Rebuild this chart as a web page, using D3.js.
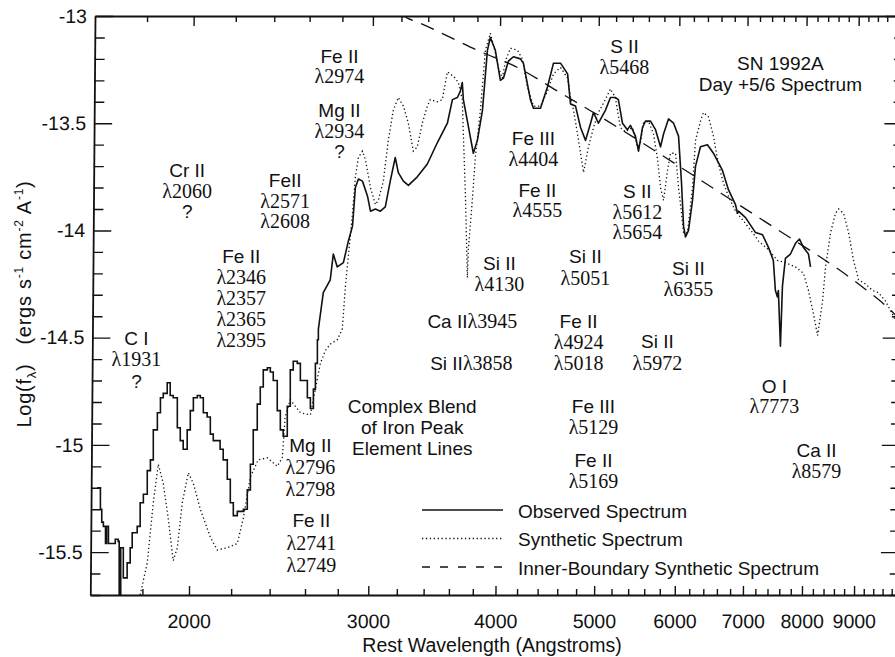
<!DOCTYPE html>
<html>
<head>
<meta charset="utf-8">
<script src="https://cdn.jsdelivr.net/npm/d3@7"></script>
<style>
  body { margin: 0; background: #fff; }
  svg { display: block; }
  .sans { font-family: "Liberation Sans", Arial, Helvetica, sans-serif; font-size: 19px; }
  .serif { font-family: "Liberation Serif", "Times New Roman", serif; font-size: 20px; }
</style>
</head>
<body>
<svg id="chart" width="895" height="657"></svg>
<script>
// ---- axis ticks ----
const xMajorTicks = [2000, 3000, 4000, 5000, 6000, 7000, 8000, 9000];
const xMinorTicks = d3.range(1800, 10000, 200).filter(v => v % 1000 !== 0);
const yMajorTicks = [-13, -13.5, -14, -14.5, -15, -15.5];
const yMinorTicks = d3.range(0, 28).map(i => +(-15.7 + i * 0.1).toFixed(1))
  .filter(v => Math.abs(v * 2 - Math.round(v * 2)) > 1e-6);

// ---- spectra: [rest wavelength (Å), log f_lambda] ----
// observed, ultraviolet part (binned data, drawn as steps)
const observedUV = [
  [1625,-15.20],[1637,-15.30],[1642,-15.36],[1648,-15.38],[1656,-15.46],[1660,-15.38],[1667,-15.46],
  [1682,-15.46],[1693,-15.44],[1704,-15.45],[1708,-15.70],[1714,-15.48],[1720,-15.48],[1724,-15.62],
  [1736,-15.62],[1739,-15.55],[1751,-15.48],[1759,-15.41],[1779,-15.38],[1791,-15.27],[1804,-15.23],
  [1820,-15.12],[1833,-15.07],[1845,-14.93],[1862,-14.85],[1875,-14.78],[1887,-14.76],[1904,-14.71],
  [1917,-14.77],[1930,-14.78],[1948,-14.92],[1961,-14.98],[1974,-15.02],[1992,-14.93],[2006,-14.84],
  [2020,-14.78],[2038,-14.77],[2052,-14.78],[2066,-14.85],[2084,-14.87],[2099,-14.95],[2113,-14.98],
  [2132,-14.98],[2146,-15.02],[2161,-15.07],[2181,-15.16],[2196,-15.27],[2211,-15.33],[2231,-15.31],
  [2246,-15.31],[2262,-15.30],[2282,-15.21],[2298,-15.09],[2313,-14.93],[2334,-14.81],[2350,-14.73],
  [2366,-14.65],[2388,-14.64],[2404,-14.66],[2420,-14.70],[2442,-14.84],[2459,-14.93],[2475,-14.96],
  [2498,-14.82],[2515,-14.65],[2532,-14.61],[2555,-14.62],[2573,-14.70],[2590,-14.70],[2614,-14.78],
  [2632,-14.83],[2650,-14.74],[2662,-14.62],[2674,-14.51],[2680,-14.46]
];
// observed, longer wavelengths
const observedOpt = [
  [2680,-14.46],[2710,-14.29],[2753,-14.23],[2772,-14.11],[2797,-14.17],[2836,-14.15],[2868,-14.05],
  [2895,-13.98],[2914,-13.80],[2934,-13.76],[2961,-13.77],[2995,-13.84],[3015,-13.91],[3049,-13.90],
  [3083,-13.91],[3118,-13.89],[3153,-13.77],[3189,-13.66],[3211,-13.73],[3248,-13.77],[3285,-13.79],
  [3352,-13.75],[3429,-13.69],[3508,-13.59],[3588,-13.50],[3629,-13.39],[3670,-13.38],[3695,-13.35],
  [3711,-13.31],[3720,-13.39],[3754,-13.49],[3805,-13.64],[3840,-13.58],[3884,-13.44],[3928,-13.16],
  [3954,-13.10],[3999,-13.16],[4045,-13.30],[4073,-13.29],[4119,-13.21],[4166,-13.19],[4232,-13.20],
  [4261,-13.22],[4329,-13.39],[4359,-13.43],[4429,-13.43],[4500,-13.33],[4561,-13.22],[4634,-13.22],
  [4709,-13.27],[4740,-13.41],[4794,-13.42],[4849,-13.52],[4904,-13.58],[4960,-13.50],[4993,-13.45],
  [5049,-13.50],[5129,-13.44],[5188,-13.38],[5246,-13.38],[5282,-13.39],[5331,-13.50],[5391,-13.53],
  [5428,-13.51],[5490,-13.56],[5528,-13.63],[5578,-13.52],[5616,-13.49],[5680,-13.49],[5745,-13.53],
  [5810,-13.61],[5850,-13.55],[5916,-13.48],[5984,-13.50],[6052,-13.56],[6093,-13.78],[6121,-13.98],
  [6148,-14.03],[6190,-14.00],[6246,-13.86],[6289,-13.70],[6360,-13.61],[6460,-13.60],[6549,-13.64],
  [6684,-13.72],[6775,-13.81],[6884,-13.88],[6915,-13.92],[6931,-13.91],[7042,-13.94],[7203,-14.01],
  [7318,-14.02],[7419,-14.08],[7499,-14.14],[7534,-14.28],[7569,-14.31],[7585,-14.28],[7620,-14.54],
  [7655,-14.26],[7707,-14.13],[7795,-14.11],[7884,-14.06],[7956,-14.04],[8028,-14.08],[8119,-14.11],
  [8157,-14.17]
];
const synthetic = [
  [1791,-15.70],[1820,-15.55],[1845,-15.27],[1866,-15.09],[1887,-15.18],[1908,-15.34],[1930,-15.54],
  [1948,-15.48],[1970,-15.27],[1997,-15.13],[2020,-15.18],[2052,-15.30],[2099,-15.43],[2132,-15.49],
  [2181,-15.48],[2231,-15.46],[2262,-15.34],[2298,-15.15],[2339,-15.07],[2388,-15.06],[2442,-15.10],
  [2470,-15.06],[2486,-14.87],[2515,-14.79],[2544,-14.82],[2573,-14.85],[2632,-14.86],[2692,-14.62],
  [2723,-14.56],[2753,-14.53],[2797,-14.51],[2829,-14.46],[2849,-14.26],[2868,-14.12],[2895,-13.92],
  [2914,-13.75],[2934,-13.66],[2961,-13.63],[2981,-13.67],[3015,-13.80],[3049,-13.88],[3069,-13.86],
  [3104,-13.77],[3139,-13.58],[3175,-13.44],[3211,-13.38],[3248,-13.42],[3285,-13.50],[3322,-13.63],
  [3352,-13.61],[3390,-13.50],[3429,-13.42],[3452,-13.39],[3508,-13.40],[3547,-13.39],[3588,-13.26],
  [3612,-13.27],[3653,-13.29],[3678,-13.31],[3711,-13.39],[3720,-13.55],[3737,-13.83],[3754,-14.22],
  [3762,-14.09],[3796,-13.86],[3822,-13.66],[3866,-13.44],[3910,-13.16],[3954,-13.08],[3999,-13.17],
  [4026,-13.24],[4063,-13.29],[4091,-13.21],[4138,-13.15],[4204,-13.16],[4251,-13.20],[4300,-13.33],
  [4359,-13.42],[4429,-13.42],[4500,-13.35],[4561,-13.27],[4634,-13.24],[4709,-13.29],[4740,-13.38],
  [4773,-13.44],[4827,-13.58],[4882,-13.73],[4937,-13.61],[4993,-13.52],[5049,-13.45],[5129,-13.39],
  [5188,-13.34],[5246,-13.38],[5306,-13.52],[5367,-13.54],[5453,-13.52],[5515,-13.61],[5553,-13.59],
  [5590,-13.50],[5654,-13.49],[5719,-13.55],[5772,-13.67],[5810,-13.80],[5850,-13.86],[5903,-13.72],
  [5943,-13.64],[6011,-13.64],[6052,-13.80],[6093,-13.92],[6121,-14.01],[6176,-14.01],[6246,-13.80],
  [6289,-13.58],[6360,-13.49],[6403,-13.45],[6475,-13.47],[6549,-13.56],[6623,-13.69],[6699,-13.78],
  [6775,-13.84],[6884,-13.91],[6994,-13.95],[7155,-14.01],[7253,-14.05],[7419,-14.09],[7569,-14.14],
  [7707,-14.15],[7884,-14.17],[8028,-14.20],[8119,-14.28],[8212,-14.39],[8288,-14.49],[8382,-14.33],
  [8439,-14.17],[8535,-14.01],[8632,-13.92],[8691,-13.90],[8790,-13.92],[8890,-14.01],[8991,-14.14],
  [9093,-14.23],[9239,-14.25],[9384,-14.28],[9513,-14.29],[9665,-14.33],[9841,-14.40],[9950,-14.45]
];
const innerBoundary = [
  [3226,-12.99],[3278,-13.01],[3360,-13.03],[3612,-13.10],[3840,-13.16],[4204,-13.24],[4602,-13.35],
  [4993,-13.45],[5528,-13.58],[6289,-13.75],[6884,-13.87],[7884,-14.05],[8439,-14.14],[9093,-14.25],
  [9910,-14.40],[10000,-14.42]
];

// ---- line identifications, anchored at (wavelength, log flux) of the first line ----
const annotations = [
  { w: 1776, f: -14.534, gap: 21.5, lines: ["C I", "λ1931", "?"] },
  { w: 1992, f: -13.751, gap: 20.5, lines: ["Cr II", "λ2060", "?"] },
  { w: 2251, f: -14.152, gap: 21,   lines: ["Fe II", "λ2346", "λ2357", "λ2365", "λ2395"] },
  { w: 2486, f: -13.798, gap: 20.5, lines: ["FeII", "λ2571", "λ2608"] },
  { w: 2811, f: -13.219, gap: 20.5, lines: ["Fe II", "λ2974"] },
  { w: 2811, f: -13.471, gap: 20.5, lines: ["Mg II", "λ2934", "?"] },
  { w: 2632, f: -15.033, gap: 22,   lines: ["Mg II", "λ2796", "λ2798"] },
  { w: 2638, f: -15.383, gap: 22.5, lines: ["Fe II", "λ2741", "λ2749"] },
  { w: 3314, f: -14.852, gap: 21,   lines: ["Complex Blend", "of Iron Peak", "Element Lines"] },
  { w: 4036, f: -14.185, gap: 20.5, lines: ["Si II", "λ4130"] },
  { w: 3796, f: -14.455, gap: 20.5, lines: ["Ca IIλ3945"] },
  { w: 3788, f: -14.651, gap: 20.5, lines: ["Si IIλ3858"] },
  { w: 4359, f: -13.602, gap: 20.5, lines: ["Fe III", "λ4404"] },
  { w: 4398, f: -13.844, gap: 20.5, lines: ["Fe II", "λ4555"] },
  { w: 4903, f: -14.152, gap: 22,   lines: ["Si II", "λ5051"] },
  { w: 4827, f: -14.455, gap: 21,   lines: ["Fe II", "λ4924", "λ5018"] },
  { w: 4993, f: -14.852, gap: 20.5, lines: ["Fe III", "λ5129"] },
  { w: 4993, f: -15.103, gap: 21,   lines: ["Fe II", "λ5169"] },
  { w: 5355, f: -13.173, gap: 20.5, lines: ["S II", "λ5468"] },
  { w: 5514, f: -13.849, gap: 20.5, lines: ["S II", "λ5612", "λ5654"] },
  { w: 6188, f: -14.208, gap: 20.5, lines: ["Si II", "λ6355"] },
  { w: 5770, f: -14.548, gap: 22,   lines: ["Si II", "λ5972"] },
  { w: 7516, f: -14.758, gap: 20.5, lines: ["O I", "λ7773"] },
  { w: 8268, f: -15.057, gap: 21,   lines: ["Ca II", "λ8579"] },
  { w: 7620, f: -13.252, gap: 20.5, lines: ["SN 1992A", "Day +5/6 Spectrum"] }
];

const legendItems = [
  { label: "Observed Spectrum", dash: null },
  { label: "Synthetic Spectrum", dash: "1.3,2.6" },
  { label: "Inner-Boundary Synthetic Spectrum", dash: "8,10" }
];

// ---- scales ----
const plot = { left: 90.3, right: 900.6, top: 16, bottom: 595 };
const x = d3.scaleLog().domain([1600, 10000]).range([plot.left, plot.right]);
const y = d3.scaleLinear().domain([-15.7, -13]).range([plot.bottom, plot.top]);

const svg = d3.select("#chart");
svg.append("rect").attr("width", 895).attr("height", 657).attr("fill", "#fff");

svg.append("defs").append("clipPath").attr("id", "plot-clip")
  .append("rect")
  .attr("x", plot.left).attr("y", plot.top)
  .attr("width", plot.right - plot.left).attr("height", plot.bottom - plot.top);

const ink = "#111";

function styleAxis(g, labelled) {
  g.attr("font-family", null).attr("font-size", null);
  g.selectAll(".domain").attr("stroke", ink).attr("stroke-width", 1.8);
  g.selectAll(".tick line").attr("stroke", ink).attr("stroke-width", 1.4);
  if (labelled) g.selectAll(".tick text").attr("class", "sans").style("font-size", "19.5px").attr("fill", ink);
}

// the printed frame leans slightly: its top edge sits ~4.7 px right of the bottom edge
const lean = -4.7 / (plot.bottom - plot.top);
const frame = svg.append("g")
  .attr("transform", `matrix(1,0,${lean},1,${-lean * plot.bottom},0)`);

// bottom axis
frame.append("g").attr("transform", `translate(0,${plot.bottom})`)
  .call(d3.axisBottom(x).tickValues(xMajorTicks).tickSizeInner(-9).tickSizeOuter(0)
    .tickPadding(19).tickFormat(d3.format("d")))
  .call(g => styleAxis(g, true));
frame.append("g").attr("transform", `translate(0,${plot.bottom})`)
  .call(d3.axisBottom(x).tickValues(xMinorTicks).tickSizeInner(-6).tickSizeOuter(0).tickFormat(() => ""))
  .call(g => { g.select(".domain").remove(); styleAxis(g, false); });

// top axis
frame.append("g").attr("transform", `translate(0,${plot.top})`)
  .call(d3.axisTop(x).tickValues(xMajorTicks).tickSizeInner(-10).tickSizeOuter(0).tickFormat(() => ""))
  .call(g => styleAxis(g, false));
frame.append("g").attr("transform", `translate(0,${plot.top})`)
  .call(d3.axisTop(x).tickValues(xMinorTicks).tickSizeInner(-6).tickSizeOuter(0).tickFormat(() => ""))
  .call(g => { g.select(".domain").remove(); styleAxis(g, false); });

// left axis
frame.append("g").attr("transform", `translate(${plot.left},0)`)
  .call(d3.axisLeft(y).tickValues(yMajorTicks).tickSizeInner(-18).tickSizeOuter(0)
    .tickPadding(8).tickFormat(d => String(d)))
  .call(g => styleAxis(g, true));
frame.append("g").attr("transform", `translate(${plot.left},0)`)
  .call(d3.axisLeft(y).tickValues(yMinorTicks).tickSizeInner(-10).tickSizeOuter(0).tickFormat(() => ""))
  .call(g => { g.select(".domain").remove(); styleAxis(g, false); });

// right axis
frame.append("g").attr("transform", `translate(${plot.right},0)`)
  .call(d3.axisRight(y).tickValues(yMajorTicks).tickSizeInner(-20).tickSizeOuter(0).tickFormat(() => ""))
  .call(g => styleAxis(g, false));
frame.append("g").attr("transform", `translate(${plot.right},0)`)
  .call(d3.axisRight(y).tickValues(yMinorTicks).tickSizeInner(-11).tickSizeOuter(0).tickFormat(() => ""))
  .call(g => { g.select(".domain").remove(); styleAxis(g, false); });

// ---- spectra ----
const lineGen = d3.line().x(d => x(d[0])).y(d => y(d[1]));
const curves = svg.append("g").attr("clip-path", "url(#plot-clip)").attr("fill", "none");

curves.append("path").datum(innerBoundary)
  .attr("d", lineGen.curve(d3.curveMonotoneX))
  .attr("stroke", ink).attr("stroke-width", 1.3).attr("stroke-dasharray", "14,9");

curves.append("path").datum(synthetic)
  .attr("d", lineGen.curve(d3.curveLinear))
  .attr("stroke", ink).attr("stroke-width", 1.3).attr("stroke-dasharray", "1.3,2.6");

curves.append("path").datum(observedUV)
  .attr("d", lineGen.curve(d3.curveStepAfter))
  .attr("stroke", ink).attr("stroke-width", 1.6);

curves.append("path").datum(observedOpt)
  .attr("d", lineGen.curve(d3.curveLinear))
  .attr("stroke", ink).attr("stroke-width", 1.6).attr("stroke-linejoin", "round");

// ---- line identifications ----
const annG = svg.append("g").attr("fill", ink).attr("text-anchor", "middle");
annotations.forEach(a => {
  const cx = x(a.w), by = y(a.f);
  const t = annG.append("text");
  a.lines.forEach((line, i) => {
    line.split(/(?=λ)/).forEach((seg, j) => {
      const ts = t.append("tspan").attr("class", seg.startsWith("λ") ? "serif" : "sans").text(seg);
      if (j === 0) ts.attr("x", cx).attr("y", by + i * a.gap);
    });
  });
});

// ---- legend ----
const legend = svg.append("g").attr("transform", "translate(422,510)");
legendItems.forEach((d, i) => {
  const row = legend.append("g").attr("transform", `translate(0,${i * 28.5})`);
  row.append("line").attr("x1", 0).attr("x2", 81).attr("y1", 0).attr("y2", 0)
    .attr("stroke", ink).attr("stroke-width", d.dash ? 1.3 : 1.6)
    .attr("stroke-dasharray", d.dash);
  row.append("text").attr("class", "sans").attr("x", 96).attr("y", 7.5).attr("fill", ink).text(d.label);
});

// ---- axis titles ----
svg.append("text").attr("class", "sans").attr("fill", ink)
  .attr("text-anchor", "middle").style("font-size", "19.5px")
  .attr("x", 492).attr("y", 652).text("Rest Wavelength (Angstroms)");

const yTitle = svg.append("text").attr("class", "sans").attr("fill", ink)
  .attr("text-anchor", "middle").style("font-size", "20px").style("white-space", "pre")
  .style("letter-spacing", "0.75px")
  .attr("transform", "translate(31,304) rotate(-90)");
yTitle.append("tspan").text("Log(f");
yTitle.append("tspan").attr("dy", 5).style("font-size", "13px").text("λ");
yTitle.append("tspan").attr("dy", -5).text(")   (ergs s");
yTitle.append("tspan").attr("dy", -8).style("font-size", "12px").text("-1");
yTitle.append("tspan").attr("dy", 8).text(" cm");
yTitle.append("tspan").attr("dy", -8).style("font-size", "12px").text("-2");
yTitle.append("tspan").attr("dy", 8).text(" A");
yTitle.append("tspan").attr("dy", -8).style("font-size", "12px").text("-1");
yTitle.append("tspan").attr("dy", 8).text(")");
</script>
</body>
</html>
